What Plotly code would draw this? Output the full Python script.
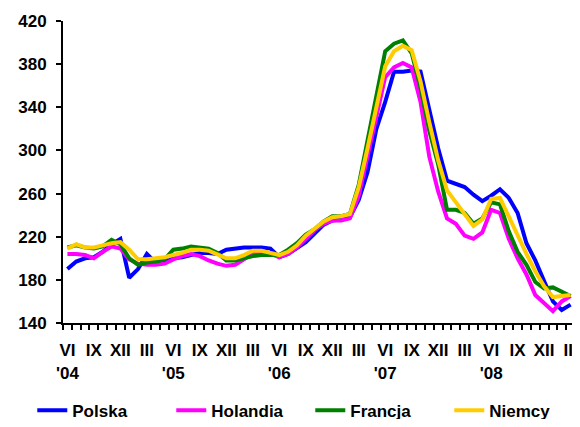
import plotly.graph_objects as go

months = [f"{y}-{m:02d}" for y, m in
          [(2004, m) for m in range(6, 13)] +
          [(y, m) for y in (2005, 2006, 2007, 2008) for m in range(1, 13)] +
          [(2009, m) for m in range(1, 4)]]

roman = {3: "III", 6: "VI", 9: "IX", 12: "XII"}
tick_labels = []
for c in months:
    y, m = c.split("-")
    m = int(m)
    if m == 6:
        tick_labels.append(f"VI<br>'{y[2:]}")
    elif m in roman:
        tick_labels.append(roman[m])
    else:
        tick_labels.append("")

polska = [190, 197, 200, 201, 206, 213, 218, 182, 190, 204, 196, 196,
          200, 201, 203, 205, 205, 204, 208, 209, 210, 210, 210, 209,
          201, 204, 209, 215, 223, 231, 235, 236, 238, 254, 280, 320,
          345, 373, 373, 374, 373, 336, 302, 272, 269, 266, 259, 253,
          258, 264, 256, 242, 214, 198, 179, 160, 152, 157]

holandia = [204, 204, 203, 200, 206, 211, 209, 199, 195, 194, 194, 195,
            199, 202, 204, 202, 198, 195, 193, 194, 199, 205, 206, 204,
            201, 204, 210, 218, 226, 232, 235, 235, 237, 258, 295, 335,
            368, 377, 381, 377, 345, 294, 262, 237, 232, 221, 218, 224,
            245, 242, 218, 200, 185, 166, 158, 151, 160, 165]

francja = [210, 212, 210, 209, 211, 217, 213, 200, 194, 196, 197, 199,
           208, 209, 211, 210, 209, 205, 198, 198, 200, 202, 203, 203,
           203, 208, 214, 222, 227, 234, 239, 239, 241, 268, 310, 352,
           392, 399, 402, 390, 358, 318, 287, 245, 245, 242, 232, 237,
           252, 250, 225, 206, 194, 178, 172, 173, 169, 165]

niemcy = [209, 213, 210, 210, 212, 214, 215, 208, 199, 199, 200, 201,
          203, 205, 208, 208, 207, 203, 200, 200, 203, 207, 207, 205,
          203, 206, 212, 221, 228, 234, 238, 239, 241, 266, 302, 338,
          378, 392, 397, 393, 364, 326, 291, 263, 252, 240, 230, 236,
          255, 256, 238, 220, 204, 188, 174, 164, 165, 166]

series = [("Polska", polska, "#0000FF"),
          ("Holandia", holandia, "#FF00FF"),
          ("Francja", francja, "#008000"),
          ("Niemcy", niemcy, "#FFCC00")]

FONT = "Arial, 'Liberation Sans', sans-serif"

fig = go.Figure()
for name, vals, col in series:
    fig.add_trace(go.Scatter(x=months, y=vals, name=name, mode="lines",
                             line=dict(color=col, width=4)))

fig.update_layout(
    width=572, height=411,
    margin=dict(l=55, r=5, t=13, b=96, autoexpand=False),
    paper_bgcolor="white", plot_bgcolor="white",
    font=dict(family=FONT, size=17, color="black", weight="bold"),
    showlegend=True,
    legend=dict(orientation="h", x=-0.06, xanchor="left", y=-0.29,
                yanchor="middle", entrywidthmode="pixels", entrywidth=94,
                font=dict(family=FONT, size=17, color="black", weight="bold"),
                bgcolor="rgba(0,0,0,0)", traceorder="normal"),
    xaxis=dict(type="category", tickmode="array", tickvals=months,
               ticktext=tick_labels, tickson="boundaries",
               ticks="outside", ticklen=5, tickwidth=2, tickcolor="black",
               showline=True, linecolor="black", linewidth=2,
               showgrid=False, zeroline=False, tickangle=0,
               range=[-0.5, len(months) - 0.5], automargin=False,
               ticklabelstandoff=11, ticklabeloverflow="allow"),
    yaxis=dict(range=[140, 420], dtick=40, tick0=140,
               ticks="outside", ticklen=5, tickwidth=2, tickcolor="black",
               showline=True, linecolor="black", linewidth=2,
               showgrid=False, zeroline=False, ticklabelstandoff=6,
               automargin=False),
)

fig.write_html("out.html")
